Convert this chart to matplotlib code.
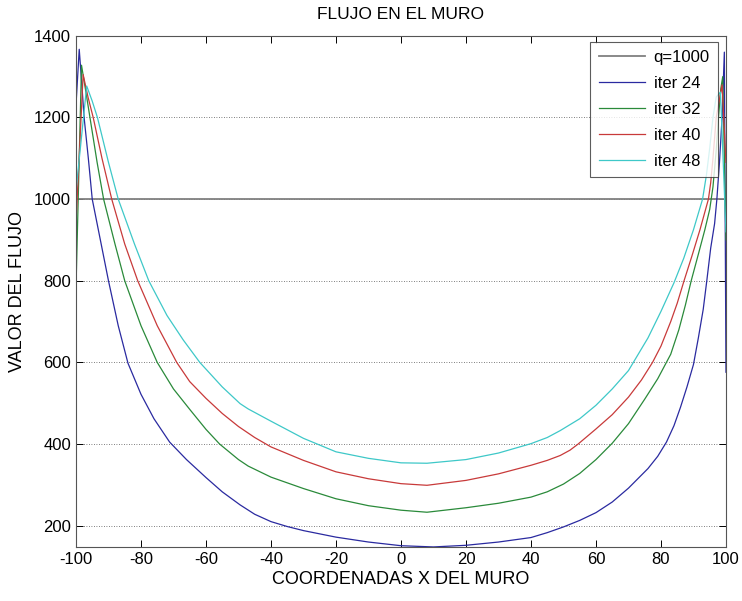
import matplotlib
matplotlib.use("Agg")
import matplotlib.pyplot as plt

plt.rcParams['font.family'] = ['Liberation Sans Narrow', 'Liberation Sans', 'DejaVu Sans']
plt.rcParams['axes.unicode_minus'] = False

q_x = [-100, 100]
q_y = [1000, 1000]

x24 = [-100, -99.0, -98.2, -97.5, -96.2, -95, -92.5, -90, -87, -84, -80, -76, -71.2, -66, -60, -55, -49.5, -45, -40, -35, -30, -25, -20, -10, 0, 10, 20, 30, 40, 45, 50, 55, 60, 65, 70, 76, 79, 81.7, 84, 86, 88, 90, 91.5, 93, 94.1, 95.3, 96.5, 97.2, 98, 98.8, 99.5, 100]
y24 = [1230, 1367, 1280, 1200, 1100, 1000, 900, 800, 690, 598, 522, 462, 405, 362, 318, 283, 251, 228, 210, 198, 188, 180, 172, 160, 151, 148, 152, 160, 171, 183, 197, 213, 232, 258, 292, 340, 370, 405, 445, 490, 540, 595, 660, 730, 800, 880, 940, 1000, 1090, 1200, 1360, 576]

x32 = [-100, -98.3, -97, -95.7, -93.5, -91.5, -88, -85, -80, -75, -70, -65, -60, -55.8, -50, -47, -40, -30, -20, -10, 0, 8, 20, 30, 40, 45, 50, 55, 60, 65, 70, 75, 79, 83, 85.5, 87.5, 89.3, 91.5, 93.5, 95, 96, 97, 97.7, 98.4, 99.0, 100]
y32 = [780, 1328, 1265, 1200, 1090, 1000, 890, 800, 690, 600, 535, 485, 436, 400, 362, 346, 319, 291, 266, 249, 238, 233, 244, 255, 270, 283, 302, 328, 362, 402, 450, 510, 560, 620, 680, 740, 800, 865, 925, 975, 1030, 1120, 1200, 1270, 1300, 900]

x40 = [-100, -97.8, -96.3, -94.7, -92, -89, -85, -81, -75, -69, -65, -60, -55, -50, -45, -40, -30, -20, -10, 0, 8, 20, 30, 40, 45, 49, 52, 54.5, 60, 65, 70, 74, 77.4, 80, 83, 85, 87.1, 89.5, 92, 94.6, 95.3, 96, 97.0, 98.8, 100]
y40 = [940, 1305, 1250, 1200, 1100, 1000, 890, 800, 690, 600, 553, 512, 475, 443, 416, 393, 360, 332, 315, 303, 299, 311, 327, 348, 360, 372, 385, 400, 437, 472, 515, 557, 600, 640, 700, 745, 800, 860, 925, 1000, 1040, 1100, 1200, 1280, 1090]

x48 = [-100, -96.7, -95, -93.4, -90, -87, -82, -77.6, -72, -67, -61.9, -55, -49.5, -47, -40, -30, -20, -10, 0, 8, 20, 30, 40, 45, 49, 55, 60, 65, 70, 73, 76, 80, 84, 87, 90, 92.8, 94, 95, 96, 97, 98.3, 100]
y48 = [1020, 1277, 1240, 1200, 1090, 1000, 890, 800, 715, 655, 600, 540, 499, 486, 456, 414, 381, 365, 354, 353, 362, 378, 401, 416, 433, 462, 495, 535, 580, 620, 660, 725, 795, 855, 925, 1000, 1060, 1125, 1200, 1250, 1262, 920]

labels = ['q=1000', 'iter 24', 'iter 32', 'iter 40', 'iter 48']
colors = ['#808080', '#2a2aa0', '#2a8a3a', '#c83a3a', '#3ec8c8']

fig = plt.figure(figsize=(7.42, 6.01), dpi=100)
ax = fig.add_axes([0.1024, 0.0903, 0.8760, 0.8501])

series = [(q_x, q_y), (x24, y24), (x32, y32), (x40, y40), (x48, y48)]
for (xs, ys), lab, c in zip(series, labels, colors):
    ax.plot(xs, ys, color=c, lw=0.9 if lab != 'q=1000' else 1.3, label=lab)

ax.set_xlim(-100, 100)
ax.set_ylim(148.5, 1400)
ax.set_xticks(range(-100, 101, 20))
ax.set_yticks(range(200, 1401, 200))
ax.yaxis.grid(True, linestyle=(0, (1, 2)), color='#555555', lw=0.6)
ax.tick_params(direction='in', top=True, right=True, labelsize=12, length=5, width=0.7)
for s in ax.spines.values():
    s.set_color('#555555')
    s.set_linewidth(0.8)

ax.set_title('FLUJO EN EL MURO', fontsize=12.5, pad=12)
ax.set_xlabel('COORDENADAS X DEL MURO', fontsize=13, labelpad=3)
ax.set_ylabel('VALOR DEL FLUJO', fontsize=13, labelpad=6)

leg = ax.legend(loc='upper right', bbox_to_anchor=(0.988, 0.988), fontsize=12,
                frameon=True, fancybox=False, edgecolor='#333333',
                handlelength=2.8, borderpad=0.5, labelspacing=0.65, handletextpad=0.5,
                borderaxespad=0)
leg.get_frame().set_linewidth(0.8)

fig.savefig('out.png', dpi=100)
